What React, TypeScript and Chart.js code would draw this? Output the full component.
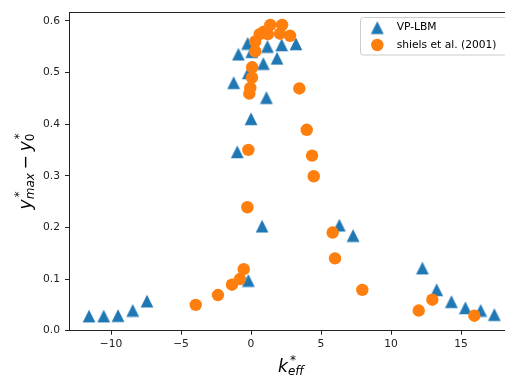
import React, { useEffect, useRef } from 'react';
import { Chart, registerables } from 'chart.js';

Chart.register(...registerables);

// ---- data ----
const seriesNames = ['VP-LBM', 'shiels et al. (2001)'];

const vpK = [-11.57, -10.52, -9.5, -8.45, -7.43, -1.24, -0.9, -0.98, -0.19, -0.24, 0.05, 0.0, -0.19, 0.79, 0.88, 1.1, 1.17, 1.86, 2.19, 3.21, 6.31, 7.29, 12.24, 13.26, 14.31, 15.31, 16.4, 17.38];
const vpY = [0.028, 0.028, 0.029, 0.039, 0.057, 0.48, 0.535, 0.346, 0.499, 0.556, 0.54, 0.41, 0.097, 0.202, 0.517, 0.451, 0.55, 0.527, 0.553, 0.555, 0.204, 0.184, 0.121, 0.079, 0.056, 0.044, 0.039, 0.031];

const shK = [-3.95, -2.36, -1.36, -0.79, -0.52, -0.26, -0.19, -0.12, -0.05, 0.07, 0.08, 0.3, 0.3, 0.62, 0.92, 1.2, 1.38, 2.07, 2.22, 2.79, 3.45, 3.98, 4.36, 4.48, 5.83, 6.0, 7.95, 11.98, 12.95, 15.95];
const shY = [0.05, 0.069, 0.089, 0.1, 0.119, 0.239, 0.35, 0.459, 0.47, 0.49, 0.51, 0.541, 0.56, 0.574, 0.579, 0.574, 0.592, 0.575, 0.592, 0.571, 0.469, 0.389, 0.339, 0.299, 0.19, 0.14, 0.079, 0.039, 0.06, 0.029];

const xTicks = [-10, -5, 0, 5, 10, 15];
const yTicks = [0, 0.1, 0.2, 0.3, 0.4, 0.5, 0.6];
const xMin = -13.0;
const xMax = 18.14;
const yMin = 0.0;
const yMax = 0.617;

// ---- styles ----
const BLUE = '#1f77b4';
const ORANGE = '#ff7f0e';
const SPINE = '#222222';
const TEXT = '#222222';
const FAM = "'DejaVu Sans'";

function makeTriangle(color: string): HTMLCanvasElement {
  const c = document.createElement('canvas');
  c.width = 14;
  c.height = 14;
  const g = c.getContext('2d')!;
  g.fillStyle = color;
  g.beginPath();
  g.moveTo(7, 0.6);
  g.lineTo(13.4, 13.2);
  g.lineTo(0.6, 13.2);
  g.closePath();
  g.fill();
  return c;
}

type Atom = { n: string; it?: boolean; sup?: string; sub?: string; subIt?: boolean; op?: boolean };

function mathRun(ctx: CanvasRenderingContext2D, atoms: Atom[], size: number, draw: boolean): number {
  let x = 0;
  const ss = size * 0.7;
  for (const a of atoms) {
    if (a.op) x += size * 0.22;
    ctx.font = `${a.it ? 'italic ' : ''}${size}px ${FAM}`;
    if (draw) ctx.fillText(a.n, x, 0);
    x += ctx.measureText(a.n).width;
    let sw = 0;
    if (a.sup) {
      ctx.font = `${ss}px ${FAM}`;
      const off = size * 0.12;
      if (draw) ctx.fillText(a.sup, x + off, -size * 0.43);
      sw = Math.max(sw, ctx.measureText(a.sup).width + off);
    }
    if (a.sub) {
      ctx.font = `${a.subIt ? 'italic ' : ''}${ss}px ${FAM}`;
      if (draw) ctx.fillText(a.sub, x, size * 0.19);
      sw = Math.max(sw, ctx.measureText(a.sub).width);
    }
    x += sw;
    if (a.op) x += size * 0.22;
  }
  return x;
}

function drawMath(ctx: CanvasRenderingContext2D, atoms: Atom[], size: number, cx: number, cy: number, rot: number) {
  ctx.save();
  ctx.translate(cx, cy);
  ctx.rotate(rot);
  ctx.textAlign = 'left';
  ctx.textBaseline = 'alphabetic';
  const w = mathRun(ctx, atoms, size, false);
  ctx.translate(-w / 2, 0);
  mathRun(ctx, atoms, size, true);
  ctx.restore();
}

const xAtoms: Atom[] = [{ n: 'k', it: true, sup: '*', sub: 'eff', subIt: true }];
const yAtoms: Atom[] = [
  { n: 'y', it: true, sup: '*', sub: 'max', subIt: true },
  { n: '\u2212', op: true },
  { n: 'y', it: true, sup: '*', sub: '0' },
];

export default function App() {
  const ref = useRef<HTMLCanvasElement | null>(null);

  useEffect(() => {
    const canvas = ref.current;
    if (!canvas) return;
    const triBlue = makeTriangle(BLUE);

    const decor = {
      id: 'decor',
      afterDraw(chart: any) {
        const { ctx, chartArea: ca } = chart;
        ctx.save();
        // top spine
        ctx.strokeStyle = SPINE;
        ctx.lineWidth = 1;
        ctx.beginPath();
        const ty = Math.round(ca.top) + 0.5;
        ctx.moveTo(ca.left, ty);
        ctx.lineTo(ca.right, ty);
        ctx.stroke();

        // axis labels
        ctx.fillStyle = '#000';
        drawMath(ctx, xAtoms, 17.1, 291, 371.7, 0);
        drawMath(ctx, yAtoms, 17.1, 30.5, 171.3, -Math.PI / 2);

        // legend
        const bx = 360.5, by = 17.5, bw = 170, bh = 37.5, r = 3;
        ctx.beginPath();
        ctx.moveTo(bx + r, by);
        ctx.lineTo(bx + bw - r, by);
        ctx.arcTo(bx + bw, by, bx + bw, by + r, r);
        ctx.lineTo(bx + bw, by + bh - r);
        ctx.arcTo(bx + bw, by + bh, bx + bw - r, by + bh, r);
        ctx.lineTo(bx + r, by + bh);
        ctx.arcTo(bx, by + bh, bx, by + bh - r, r);
        ctx.lineTo(bx, by + r);
        ctx.arcTo(bx, by, bx + r, by, r);
        ctx.closePath();
        ctx.fillStyle = 'rgba(255,255,255,0.8)';
        ctx.fill();
        ctx.strokeStyle = '#cccccc';
        ctx.lineWidth = 1;
        ctx.stroke();

        ctx.drawImage(triBlue, 377.3 - 7, 27.7 - 7);
        ctx.fillStyle = ORANGE;
        ctx.beginPath();
        ctx.arc(377.3, 45, 6.2, 0, Math.PI * 2);
        ctx.fill();

        ctx.fillStyle = '#000';
        ctx.font = `10.7px ${FAM}`;
        ctx.textAlign = 'left';
        ctx.textBaseline = 'middle';
        ctx.fillText(seriesNames[0], 396.7, 27.7);
        ctx.fillText(seriesNames[1], 396.7, 45);
        ctx.restore();
      },
    };

    const chart = new Chart(canvas, {
      type: 'scatter',
      data: {
        datasets: [
          {
            label: seriesNames[0],
            data: vpK.map((k, i) => ({ x: k, y: vpY[i] })),
            pointStyle: triBlue as any,
            pointRadius: 7,
            backgroundColor: BLUE,
            borderColor: BLUE,
            pointBorderWidth: 0,
            order: 1,
          },
          {
            label: seriesNames[1],
            data: shK.map((k, i) => ({ x: k, y: shY[i] })),
            pointStyle: 'circle',
            pointRadius: 6.2,
            backgroundColor: ORANGE,
            borderColor: ORANGE,
            pointBorderWidth: 0,
            order: 0,
          },
        ],
      },
      options: {
        responsive: false,
        animation: false,
        devicePixelRatio: 1,
        events: [],
        layout: { autoPadding: false, padding: { top: 12, left: 0, right: 0, bottom: 0 } },
        plugins: { legend: { display: false }, tooltip: { enabled: false } },
        scales: {
          x: {
            type: 'linear',
            min: xMin,
            max: xMax,
            afterBuildTicks: (s: any) => {
              s.ticks = xTicks.map((v) => ({ value: v }));
            },
            afterFit: (s: any) => {
              s.height = 49.3;
            },
            ticks: {
              autoSkip: false,
              maxRotation: 0,
              padding: 3,
              color: TEXT,
              font: { family: 'DejaVu Sans', size: 10.7 },
              callback: (v: any) => String(v).replace('-', '\u2212'),
            },
            grid: { drawOnChartArea: false, drawTicks: true, tickLength: 4, tickColor: SPINE, tickWidth: 1 },
            border: { display: true, color: SPINE, width: 1 },
          },
          y: {
            type: 'linear',
            min: yMin,
            max: yMax,
            afterBuildTicks: (s: any) => {
              s.ticks = yTicks.map((v) => ({ value: v }));
            },
            afterFit: (s: any) => {
              s.width = 69;
            },
            ticks: {
              autoSkip: false,
              padding: 5,
              color: TEXT,
              font: { family: 'DejaVu Sans', size: 10.7 },
              callback: (v: any) => Number(v).toFixed(1),
            },
            grid: { drawOnChartArea: false, drawTicks: true, tickLength: 4, tickColor: SPINE, tickWidth: 1 },
            border: { display: true, color: SPINE, width: 1 },
          },
        },
      },
      plugins: [decor],
    } as any);

    return () => chart.destroy();
  }, []);

  return (
    <div style={{ position: 'fixed', left: 0, top: 0, width: 505, height: 380, background: '#fff' }}>
      <canvas ref={ref} width={505} height={380} style={{ display: 'block', width: 505, height: 380 }} />
    </div>
  );
}
